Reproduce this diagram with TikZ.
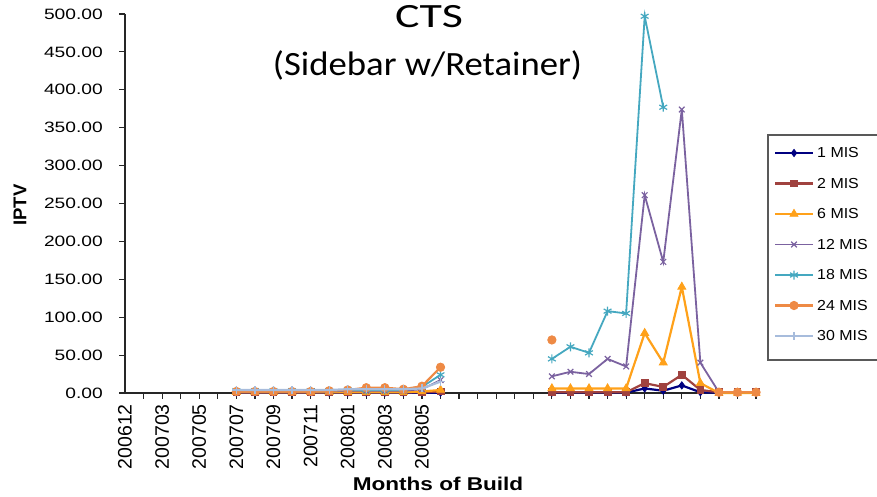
\documentclass[tikz,border=0pt]{standalone}
\usepackage{fontspec}
\setmainfont{Liberation Sans}
\newfontfamily\titlefont{Carlito}
\usetikzlibrary{plotmarks}

\definecolor{misnavy}{HTML}{000080}
\definecolor{misbrown}{HTML}{A0423F}
\definecolor{misamber}{HTML}{FFA11A}
\definecolor{mispurple}{HTML}{7B62A0}
\definecolor{misteal}{HTML}{45A8C0}
\definecolor{misorange}{HTML}{EE8A45}
\definecolor{mispale}{HTML}{A7BCDC}

\begin{document}
\begin{tikzpicture}[x=1pt, y=1pt,
    axisline/.style={line width=1.8pt, black!85},
    ticklabel/.style={font=\fontsize{15}{18}\selectfont, xscale=1.28, inner sep=0pt},
    xlabel/.style={font=\fontsize{19.5}{22}\selectfont, inner sep=0pt, rotate=90, anchor=east},
    axistitle/.style={font=\bfseries\fontsize{18.5}{22}\selectfont, inner sep=0pt},
    legtext/.style={font=\fontsize{14.5}{17}\selectfont, xscale=1.1, inner sep=0pt, anchor=west},
    mis1/.style={color=misnavy, line width=2.2pt, mark=diamond*, mark size=3.6pt, mark options={line width=0.8pt}},
    mis2/.style={color=misbrown, line width=2.2pt, mark=square*, mark size=3.4pt, mark options={line width=0.8pt}},
    mis6/.style={color=misamber, line width=2.2pt, mark=triangle*, mark size=4.6pt, mark options={line width=0.8pt}},
    mis12/.style={color=mispurple, line width=1.8pt, mark=x, mark size=4pt, mark options={line width=1.2pt}},
    mis18/.style={color=misteal, line width=1.8pt, mark=asterisk, mark size=4.5pt, mark options={line width=1.2pt}},
    mis24/.style={color=misorange, line width=2.2pt, mark=*, mark size=4.2pt, mark options={line width=0.8pt}},
    mis30/.style={color=mispale, line width=2.2pt, mark=+, mark size=4pt, mark options={line width=1.2pt}}]
    \useasboundingbox (0,0) rectangle (877,496);

    % Titulo
    \node[font=\titlefont\fontsize{34}{40}\selectfont, xscale=1.35, inner sep=0pt, anchor=base] (title) at (429,468) {CTS};
    \node[font=\titlefont\fontsize{34}{40}\selectfont, xscale=1.08, inner sep=0pt, anchor=base] (subtitle) at (427.5,420) {(Sidebar w/Retainer)};

    % Nombres de los ejes
    \node[axistitle, rotate=90] (ytitle) at (20,291) {IPTV};
    \node[axistitle, xscale=1.22, anchor=base] (xtitle) at (438,6) {Months of Build};

    \begin{scope}[shift={(125,103)}, x=18.56pt, y=0.758pt]
        % Ejes y marcas
        \draw[axisline] (0,500) -- (0,0) -- (34.1,0);
        \foreach \v in {0,50,...,500} {
            \draw[axisline, line width=1.2pt] (0,\v) -- ++(-6pt,0);
            \node[ticklabel, anchor=east] (yl\v) at ([xshift=-22pt]0,\v) {\v.00};
        }
        \foreach \i in {1,...,34}
            \draw[axisline, line width=1.2pt] (\i,0) -- ++(0,-6pt);
        \foreach \i/\lab in {0/200612, 2/200703, 4/200705, 6/200707, 8/200709, 10/200711, 12/200801, 14/200803, 16/200805}
            \node[xlabel] (xl\i) at ([yshift=-11pt]\i,0) {\lab};

        % Series (primer tramo)
        \draw[mis1] plot coordinates {(6,0.5) (7,0.5) (8,0.5) (9,0.5) (10,0.5) (11,0.5) (12,0.5) (13,0.5) (14,0.5) (15,0.5) (16,0.5) (17,0.5)};
        \draw[mis2] plot coordinates {(6,1) (7,1) (8,1) (9,1) (10,1) (11,1) (12,1) (13,1) (14,1) (15,1) (16,1) (17,2)};
        \draw[mis6] plot coordinates {(6,1) (7,1) (8,1) (9,1) (10,1) (11,1) (12,1) (13,1) (14,1) (15,1) (16,2) (17,4)};
        \draw[mis12] plot coordinates {(6,2) (7,2) (8,2) (9,2) (10,2) (11,2) (12,3) (13,3) (14,3) (15,3) (16,5) (17,17)};
        \draw[mis18] plot coordinates {(6,3) (7,3) (8,3) (9,3) (10,3) (11,3) (12,4) (13,4) (14,4) (15,4) (16,8) (17,24)};
        \draw[mis24] plot coordinates {(6,2) (7,2) (8,2) (9,2) (10,2) (11,3) (12,4) (13,7) (14,7) (15,5) (16,9) (17,34)};
        \draw[mis30] plot coordinates {(6,4) (7,4) (8,4) (9,4) (10,4) (11,4) (12,5) (13,5) (14,5) (15,5) (16,6) (17,15)};

        % Series (segundo tramo)
        \draw[mis1] plot coordinates {(23,0.5) (24,0.5) (25,0.5) (26,0.5) (27,0.5) (28,6) (29,3) (30,10) (31,1) (32,0.3) (33,0.3) (34,0.3)};
        \draw[mis2] plot coordinates {(23,1) (24,1) (25,1) (26,1) (27,1) (28,13) (29,8) (30,24) (31,4) (32,1) (33,1) (34,1)};
        \draw[mis6] plot coordinates {(23,6) (24,6) (25,6) (26,6) (27,6) (28,79) (29,40) (30,140) (31,13) (32,0) (33,0) (34,0)};
        \draw[mis12] plot coordinates {(23,22) (24,28) (25,25) (26,45) (27,35) (28,261) (29,173) (30,374) (31,40) (32,1) (33,1) (34,1)};
        \draw[mis18] plot coordinates {(23,45) (24,61) (25,53) (26,108) (27,105) (28,497) (29,377)};
        \draw[mis24] plot coordinates {(23,70)};
        \draw[mis24] plot coordinates {(32,1) (33,1) (34,1)};
    \end{scope}

    % Leyenda
    \draw[line width=1.5pt, black!65] (768,136) rectangle (884,361);
    \foreach \s/\lab/\y in {mis1/1 MIS/343, mis2/2 MIS/312.5, mis6/6 MIS/282, mis12/12 MIS/251.5, mis18/18 MIS/221, mis24/24 MIS/190.5, mis30/30 MIS/160} {
        \draw[\s, mark indices={2}] plot coordinates {(775,\y) (794,\y) (813,\y)};
        \node[legtext] (leg\s) at (817,\y) {\lab};
    }
\end{tikzpicture}
\end{document}
